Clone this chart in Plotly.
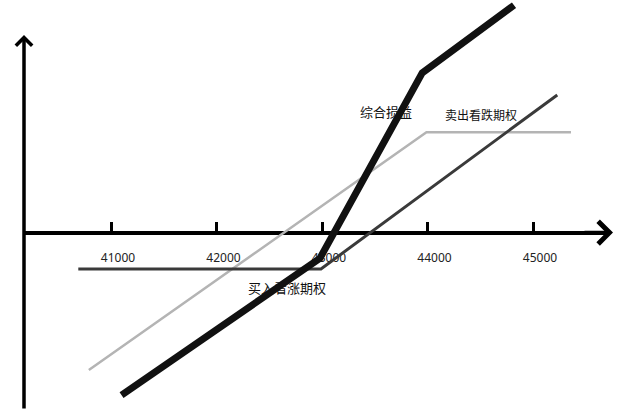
import plotly.graph_objects as go

# ---------------- data ----------------
price_ticks = [41000, 42000, 43000, 44000, 45000]
tick_labels = ["41000", "42000", "43000", "44000", "45000"]

# buy call (strike 43000)
long_call_x = [40690, 42990, 45230]
long_call_y = [-480, -480, 1810]

# sell put (strike 44000)
short_put_x = [40790, 43990, 45360]
short_put_y = [-1810, 1320, 1320]

# combined P&L
combined_x = [41100, 42980, 43950, 44820]
combined_y = [-2140, -340, 2100, 2990]

label_texts = ["综合损益", "卖出看跌期权", "买入看涨期权"]
label_x = [43607, 44507, 42668]
label_y = [1559, 1520, -757]

# ---------------- layout geometry ----------------
W, H = 620, 419
PX_PER_PRICE = 0.1055        # px per price unit
PX_PER_PNL = 0.076           # px per P&L unit
ORIGIN_PX = (322.0, 232.5)   # pixel position of (43000, 0)
X_LEFT_PX, X_RIGHT_PX = 24, 606

x_min = 43000 + (X_LEFT_PX - ORIGIN_PX[0]) / PX_PER_PRICE
x_max = 43000 + (X_RIGHT_PX - ORIGIN_PX[0]) / PX_PER_PRICE
y_max = ORIGIN_PX[1] / PX_PER_PNL
y_min = -(H - ORIGIN_PX[1]) / PX_PER_PNL
zero_frac = -y_min / (y_max - y_min)

fig = go.Figure()

fig.add_trace(go.Scatter(
    x=label_x, y=label_y, mode="text", text=label_texts,
    textposition="middle center",
    textfont=dict(family="Noto Sans CJK SC", size=[13, 12, 13], color="#111111"),
    hoverinfo="skip", showlegend=False,
))
fig.add_trace(go.Scatter(
    x=short_put_x, y=short_put_y, mode="lines",
    line=dict(color="#b4b4b4", width=2.5), showlegend=False,
))
fig.add_trace(go.Scatter(
    x=long_call_x, y=long_call_y, mode="lines",
    line=dict(color="#3a3a3a", width=3), showlegend=False,
))
fig.add_trace(go.Scatter(
    x=combined_x, y=combined_y, mode="lines",
    line=dict(color="#111111", width=7), showlegend=False,
))

fig.update_layout(
    width=W, height=H, autosize=False,
    margin=dict(l=0, r=0, t=0, b=0),
    paper_bgcolor="white", plot_bgcolor="white",
    showlegend=False,
    xaxis=dict(
        domain=[X_LEFT_PX / W, X_RIGHT_PX / W],
        range=[x_min, x_max],
        anchor="free", position=zero_frac,
        showline=True, linecolor="#000000", linewidth=4,
        ticks="inside", ticklen=9, tickwidth=3, tickcolor="#000000",
        tickvals=price_ticks, ticktext=tick_labels,
        tickfont=dict(family="Noto Sans", size=12, color="#222222"),
        ticklabelstandoff=13, ticklabelshift=7,
        showgrid=False, zeroline=False, layer="below traces",
        fixedrange=True,
    ),
    yaxis=dict(
        domain=[0, 1], range=[y_min, y_max], visible=False,
        showgrid=False, zeroline=False, fixedrange=True,
    ),
    annotations=[
        # vertical axis with arrow
        dict(xref="paper", yref="paper", x=24 / W, y=1 - 35 / H,
             axref="pixel", ayref="pixel", ax=0, ay=375,
             text="", showarrow=True, arrowhead=4, arrowwidth=3.5,
             arrowsize=0.9, arrowcolor="#000000"),
        # horizontal axis arrow head
        dict(xref="paper", yref="paper", x=613 / W, y=zero_frac,
             axref="pixel", ayref="pixel", ax=-30, ay=0,
             text="", showarrow=True, arrowhead=4, arrowwidth=3.5,
             arrowsize=1.25, arrowcolor="#000000"),
    ],
)

fig.write_html("out.html", config={"displayModeBar": False},
               post_script="document.body.style.margin='0';")
